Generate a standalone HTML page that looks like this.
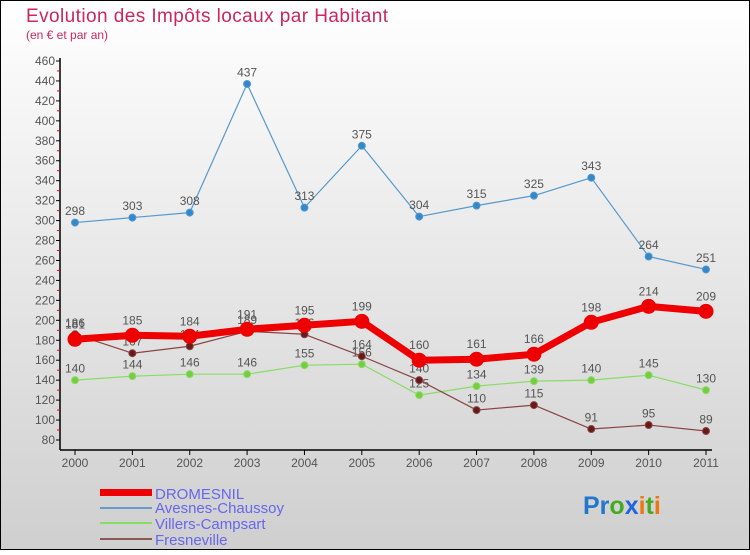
<!DOCTYPE html>
<html><head><meta charset="utf-8"><style>
html,body{margin:0;padding:0}
body{width:750px;height:550px;overflow:hidden;font-family:"Liberation Sans","DejaVu Sans",sans-serif}
</style></head><body>
<svg id="chart" width="750" height="550" xmlns="http://www.w3.org/2000/svg">
<defs><linearGradient id="bg" x1="0" y1="0" x2="0" y2="1"><stop offset="0" stop-color="#ffffff"/><stop offset="1" stop-color="#cfcfcf"/></linearGradient></defs>
<rect x="0.5" y="0.5" width="749" height="549" fill="url(#bg)" stroke="#000" stroke-width="1"/>
<text x="26" y="22" font-size="19" textLength="362" fill="#c8285a">Evolution des Impôts locaux par Habitant</text>
<text x="26" y="39" font-size="12" fill="#c8285a">(en € et par an)</text>
<g id="axes"></g><g id="series"></g>
<g font-size="15" fill="#6666ee">
<rect x="100" y="489" width="52" height="7" fill="#ee0000"/>
<text x="155" y="499">DROMESNIL</text>
<rect x="100" y="507" width="52" height="2" fill="#6699cc"/>
<text x="155" y="513">Avesnes-Chaussoy</text>
<rect x="100" y="522" width="52" height="2" fill="#88dd66"/>
<text x="155" y="529">Villers-Campsart</text>
<rect x="100" y="538" width="52" height="2" fill="#8a5555"/>
<text x="155" y="545">Fresneville</text>
</g>
<text x="583" y="514" font-size="25" font-weight="bold"><tspan fill="#2277cc">Pr</tspan><tspan fill="#44aa22">o</tspan><tspan fill="#2266dd">x</tspan><tspan fill="#ee7711">i</tspan><tspan fill="#44aa22">t</tspan><tspan fill="#ee7711">i</tspan></text>
</svg>
<script>
const years=[2000,2001,2002,2003,2004,2005,2006,2007,2008,2009,2010,2011];
const dromesnil=[181,185,184,191,195,199,160,161,166,198,214,209];
const avesnes=[298,303,308,437,313,375,304,315,325,343,264,251];
const villers=[140,144,146,146,155,156,125,134,139,140,145,130];
const fresneville=[186,167,174,189,186,164,140,110,115,91,95,89];
const yTicks=[80,100,120,140,160,180,200,220,240,260,280,300,320,340,360,380,400,420,440,460];
const NS="http://www.w3.org/2000/svg";
const x=i=>75+i*(706-75)/11;
const y=v=>440-(v-80)*(379/380);
function mk(tag,attrs,parent){const e=document.createElementNS(NS,tag);for(const k in attrs)e.setAttribute(k,attrs[k]);parent.appendChild(e);return e;}
const ax=document.getElementById('axes');
let l=mk('line',{x1:60,y1:58,x2:60,y2:450,stroke:'#000','stroke-width':1.5},ax);


l=mk('line',{x1:60,y1:450,x2:712,y2:450,stroke:'#000','stroke-width':1.5},ax);


yTicks.forEach(v=>{
 mk('line',{x1:56,y1:y(v),x2:60,y2:y(v),stroke:'#000'},ax);
 if(v<460) mk('line',{x1:57,y1:y(v+10),x2:60,y2:y(v+10),stroke:'#e00'},ax);
 const t=mk('text',{x:55,y:y(v)+4,'font-size':12,'text-anchor':'end',fill:'#555'},ax);
 
 
 t.textContent=v;
});
years.forEach((yr,i)=>{
 mk('line',{x1:x(i),y1:450,x2:x(i),y2:455,stroke:'#000'},ax);
 const t=mk('text',{x:x(i),y:467,'font-size':12,'text-anchor':'middle',fill:'#555'},ax);
 
 
 t.textContent=yr;
});
const sg=document.getElementById('series');
function draw(data,name,color,lw,r,dot){
 const g=mk('g',{},sg);
 
 
 mk('polyline',{points:data.map((v,i)=>x(i)+','+y(v)).join(' '),fill:'none',stroke:color,'stroke-width':lw,'stroke-linejoin':'round'},g);
 data.forEach((v,i)=>{
  const c=mk('circle',{cx:x(i),cy:y(v),r:r,fill:dot,stroke:color,'stroke-width':1},g);
  
  
  const t=mk('text',{x:x(i),y:y(v)-r-4,'font-size':12,'text-anchor':'middle',fill:'#555'},g);
  
  
  t.textContent=v;
 });
}
draw(avesnes,'avesnes','#5599cc',1.2,3.5,'#3388cc');
draw(villers,'villers','#88dd66',1.2,3.5,'#77cc44');
draw(fresneville,'fresneville','#8a4444',1.2,3.5,'#661a1a');
draw(dromesnil,'dromesnil','#ee0000',7,7,'#ee0000');
</script>
</body></html>
